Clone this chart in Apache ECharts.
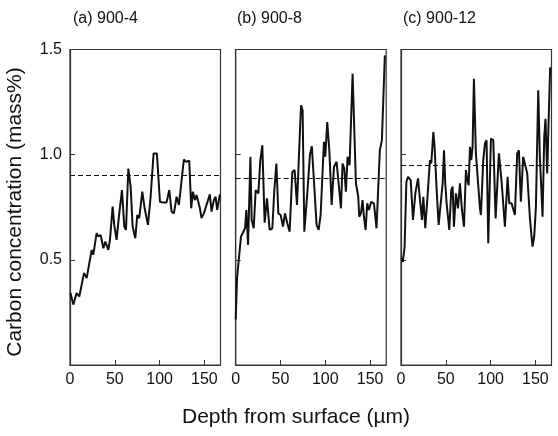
<!DOCTYPE html>
<html>
<head>
<meta charset="utf-8">
<script src="https://cdn.jsdelivr.net/npm/echarts@6/dist/echarts.min.js"></script>
<style>
  html, body { margin: 0; padding: 0; background: #fff; }
  #chart { width: 558px; height: 436px; }
</style>
</head>
<body>
<div id="chart"></div>
<script>
// panel labels
const panelTitles = ['(a) 900-4', '(b) 900-8', '(c) 900-12'];

// depth (µm) / carbon (mass%) for each panel
const depthA = [0.5, 3.7, 7.4, 10.4, 12.6, 15.6, 18.6, 24.2, 26.0, 29.7, 31.6, 34.2, 37.2, 39.4, 42.8, 44.6, 47.6, 49.4, 52.0, 54.6,
  58.0, 60.6, 62.5, 65.1, 67.7, 69.9, 72.9, 75.1, 77.3, 80.7, 83.3, 87.0, 90.0, 93.3, 97.0, 100.4, 104.1, 107.8, 110.8, 113.4,
  116.0, 119.0, 121.6, 127.1, 129.4, 133.1, 135.3, 137.2, 139.4, 141.3, 145.0, 146.8, 149.4, 152.4, 154.6, 156.1, 158.0, 160.6, 162.5, 164.3, 167.3];
const carbonA = [0.342, 0.287, 0.342, 0.326, 0.318, 0.437, 0.413, 0.547, 0.524, 0.627, 0.611, 0.618, 0.555, 0.587, 0.547, 0.595, 0.753, 0.666, 0.595, 0.705,
  0.832, 0.658, 0.642, 0.934, 0.848, 0.658, 0.603, 0.713, 0.698, 0.824, 0.745, 0.666, 0.800, 1.006, 1.006, 0.776, 0.772, 0.773, 0.832, 0.729,
  0.721, 0.800, 0.761, 0.977, 0.966, 0.971, 0.745, 0.824, 0.784, 0.808, 0.745, 0.698, 0.721, 0.761, 0.769, 0.811, 0.729, 0.784, 0.800, 0.737, 0.811];

const depthB = [0, 1.5, 3.7, 5.9, 8.2, 10.4, 11.9, 13.8, 16.4, 17.8, 20.1, 22.3, 23.8, 25.3, 27.5, 29.7, 32.3, 34.9, 37.9, 40.9,
  43.1, 45.4, 47.6, 50.2, 52.8, 55.0, 57.6, 60.2, 63.2, 65.8, 68.4, 70.6, 72.9, 74.7, 76.6, 80.0, 82.9, 85.0, 86.6, 88.1,
  90.3, 92.6, 94.8, 96.3, 98.5, 100.0, 102.2, 104.5, 107.1, 109.7, 112.6, 115.6, 117.5, 119.3, 121.2, 123.0, 124.9, 127.1, 130.5, 134.2,
  136.8, 137.9, 139.8, 141.6, 143.1, 145.0, 146.8, 148.7, 151.3, 154.3, 157.2, 160.9, 163.2, 166.5];
const carbonB = [0.216, 0.413, 0.418, 0.611, 0.630, 0.650, 0.737, 0.571, 0.990, 0.690, 0.650, 0.832, 0.840, 0.816, 0.974, 1.045, 0.677, 0.792, 0.642, 0.650,
  0.832, 0.958, 0.721, 0.713, 0.658, 0.721, 0.674, 0.634, 0.918, 0.927, 0.761, 0.761, 1.235, 1.211, 0.634, 0.82, 1.0, 1.04, 0.927, 0.919,
  0.666, 0.642, 0.713, 0.721, 1.061, 0.990, 1.155, 1.021, 0.761, 0.942, 0.966, 0.832, 0.745, 0.958, 0.934, 0.824, 0.990, 0.950, 1.385, 0.864,
  0.800, 0.705, 0.721, 0.784, 0.705, 0.642, 0.769, 0.737, 0.776, 0.769, 0.650, 1.021, 1.069, 1.472];

const depthC = [0.5, 2, 4, 6, 7.8, 10.8, 13.4, 16.0, 19.0, 21.2, 23.4, 24.9, 27.1, 30.1, 32.3, 33.8, 36.1, 37.5, 39.8, 42.0,
  44.2, 46.5, 48.0, 49.4, 50.9, 53.9, 56.1, 57.6, 59.1, 61.3, 63.6, 65.8, 68.0, 70.3, 72.5, 74.0, 75.5, 77.0, 78.4, 79.9,
  81.4, 83.6, 85.1, 88.1, 89.2, 91.8, 93.7, 95.5, 97.4, 100.4, 103.0, 105.6, 109.3, 112.3, 114.1, 116.0, 119.0, 120.8, 123.4, 127.1,
  129.7, 131.6, 133.8, 136.4, 138.3, 140.9, 143.9, 146.8, 148.7, 150.6, 153.2, 155.0, 158.0, 159.9, 161.3, 163.2, 164.7, 166.5];
const carbonC = [0.51, 0.49, 0.56, 0.87, 0.895, 0.879, 0.690, 0.816, 0.887, 0.784, 0.690, 0.800, 0.650, 0.832, 0.974, 0.958, 1.108, 1.037, 0.832, 0.666,
  0.674, 0.864, 1.021, 0.864, 0.769, 0.642, 0.832, 0.848, 0.658, 0.816, 0.745, 0.864, 0.737, 0.658, 0.927, 0.879, 0.855, 1.037, 0.974, 1.037,
  1.361, 1.006, 0.998, 0.745, 0.713, 0.974, 1.053, 1.069, 0.579, 1.077, 1.069, 0.697, 1.006, 0.871, 0.871, 0.658, 0.895, 0.769, 0.769, 0.713,
  1.006, 1.021, 0.776, 0.990, 0.982, 0.911, 0.697, 0.563, 0.611, 0.753, 1.306, 0.990, 0.705, 1.085, 1.171, 0.911, 1.148, 1.416];

// dashed reference level in each panel
const avgLevels = [0.895, 0.89, 0.955];

const depths = [depthA, depthB, depthC];
const carbons = [carbonA, carbonB, carbonC];

const FONT = "'Liberation Sans', Arial, sans-serif";
const INK = '#111';
const gridLefts = [70, 235.7, 401];
const gridWidth = 150.5;
const titleLefts = [73, 237, 403];

const chart = echarts.init(document.getElementById('chart'));

const grids = gridLefts.map(left => ({
  left: left,
  top: 49.5,
  width: gridWidth,
  height: 315.5,
  show: true,
  borderColor: '#333',
  borderWidth: 1.2,
  backgroundColor: 'transparent'
}));

const xAxes = gridLefts.map((_, i) => ({
  type: 'value',
  gridIndex: i,
  min: 0,
  max: 168,
  interval: 50,
  axisLine: { show: true, lineStyle: { color: '#333', width: 1.2 } },
  axisTick: { show: true, inside: true, length: 5, lineStyle: { color: '#333' } },
  axisLabel: { showMaxLabel: false, color: INK, fontSize: 16, fontFamily: FONT, margin: 7 },
  splitLine: { show: false }
}));

const yAxes = gridLefts.map((_, i) => ({
  type: 'value',
  gridIndex: i,
  min: 0,
  max: 1.5,
  interval: 0.5,
  axisLine: { show: true, lineStyle: { color: '#333', width: 1.2 } },
  axisTick: { show: true, inside: true, length: 5, lineStyle: { color: '#333' } },
  axisLabel: {
    show: i === 0,
    showMinLabel: false,
    color: INK,
    fontSize: 16,
    fontFamily: FONT,
    margin: 8,
    formatter: v => v.toFixed(1)
  },
  splitLine: { show: false }
}));

const series = depths.map((d, i) => ({
  type: 'line',
  xAxisIndex: i,
  yAxisIndex: i,
  data: d.map((x, k) => [x, carbons[i][k]]),
  showSymbol: false,
  lineStyle: { color: INK, width: 2 },
  z: 3,
  markLine: {
    silent: true,
    symbol: 'none',
    label: { show: false },
    lineStyle: { color: INK, width: 1.2, type: [5, 3] },
    data: [{ yAxis: avgLevels[i] }]
  }
}));

chart.setOption({
  animation: false,
  title: panelTitles.map((t, i) => ({
    text: t,
    left: titleLefts[i],
    top: 11,
    padding: 0,
    textStyle: { fontSize: 16, fontWeight: 'normal', color: INK, fontFamily: FONT }
  })),
  grid: grids,
  xAxis: xAxes,
  yAxis: yAxes,
  series: series,
  graphic: [
    {
      type: 'text',
      x: 15,
      y: 212,
      rotation: Math.PI / 2,
      style: {
        text: 'Carbon concentration (mass%)',
        fontSize: 21,
        fontFamily: FONT,
        fill: INK,
        textAlign: 'center',
        textVerticalAlign: 'middle'
      }
    },
    {
      type: 'text',
      x: 296,
      y: 417,
      style: {
        text: 'Depth from surface (µm)',
        fontSize: 21,
        fontFamily: FONT,
        fill: INK,
        textAlign: 'center',
        textVerticalAlign: 'middle'
      }
    }
  ]
});
</script>
</body>
</html>
